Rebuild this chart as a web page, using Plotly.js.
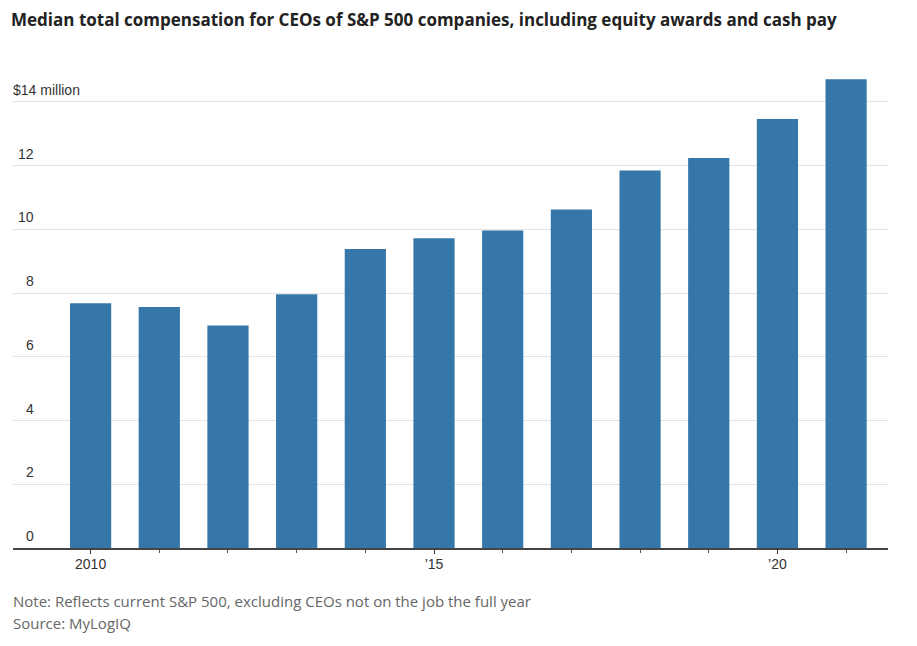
<!DOCTYPE html>
<html>
<head>
<meta charset="utf-8">
<script src="https://cdn.plot.ly/plotly-3.0.1.min.js"></script>
<style>
  html, body { margin: 0; padding: 0; background: #fff; }
  #chart { width: 917px; height: 646px; }
</style>
</head>
<body>
<div id="chart"></div>
<script>
/* data */
const years = [2010, 2011, 2012, 2013, 2014, 2015, 2016, 2017, 2018, 2019, 2020, 2021];
const medianPay = [7.68, 7.56, 6.98, 7.96, 9.38, 9.72, 9.96, 10.62, 11.85, 12.24, 13.46, 14.71];
const yTicks = [0, 2, 4, 6, 8, 10, 12];
const yTickText = ["0", "2", "4", "6", "8", "10", "12"];
const yTopTick = 14;
const yTopText = "$14 million";
const xTicks = [2010, 2015, 2020];
const xTickText = ["2010", "\u201915", "\u201920"];

const tickFace = "'Liberation Sans Narrow', 'Liberation Sans', Arial, sans-serif";
const body = "'Open Sans', 'Noto Sans', sans-serif";
const xRange = [2008.87, 2021.61];

// y labels sit above the gridlines, numbers right aligned
const yLabels = yTicks.map((v, i) => ({
  xref: "paper", yref: "y",
  x: 0.026, y: v,
  text: yTickText[i],
  showarrow: false,
  xanchor: "right", yanchor: "bottom",
  yshift: 2,
  font: { family: tickFace, size: 14, color: "#333" },
}));
yLabels.push({
  xref: "paper", yref: "y",
  x: 0, y: yTopTick,
  text: yTopText,
  showarrow: false,
  xanchor: "left", yanchor: "bottom",
  yshift: 2, xshift: -2,
  font: { family: tickFace, size: 14, color: "#333" },
});

const notes = [
  { text: "Note: Reflects current S&P 500, excluding CEOs not on the job the full year", y: 601 },
  { text: "Source: MyLogIQ", y: 623 },
].map((n) => ({
  xref: "paper", yref: "paper",
  x: 0, y: 1 - (n.y - 70) / 478,
  text: n.text,
  showarrow: false,
  xanchor: "left", yanchor: "middle",
  xshift: -2,
  font: { family: body, size: 15, color: "#666" },
}));

// label only every fifth year, small tick on each bar
const yearText = years.map((y) => {
  const k = xTicks.indexOf(y);
  return k >= 0 ? xTickText[k] : "";
});

Plotly.newPlot(
  "chart",
  [
    {
      type: "bar",
      x: years,
      y: medianPay,
      width: 0.6,
      marker: { color: "#3677a9" },
      hoverinfo: "x+y",
    },
    {
      // carrier for the longer ticks of the labelled years
      type: "scatter",
      mode: "none",
      x: years,
      y: medianPay,
      xaxis: "x2",
      hoverinfo: "skip",
    },
  ],
  {
    width: 917,
    height: 646,
    margin: { l: 13, r: 29, t: 70, b: 98 },
    paper_bgcolor: "#fff",
    plot_bgcolor: "#fff",
    showlegend: false,
    title: {
      text: "<b>Median total compensation for CEOs of S&P 500 companies, including equity awards and cash pay</b>",
      x: 11 / 917,
      xanchor: "left",
      y: 1 - 20 / 646,
      yanchor: "middle",
      font: { family: body, size: 17, color: "#222" },
    },
    xaxis: {
      range: xRange,
      tickmode: "array",
      tickvals: years,
      ticktext: yearText,
      ticks: "outside",
      ticklen: 3,
      tickcolor: "#555",
      tickfont: { family: tickFace, size: 14, color: "#333" },
      showline: true,
      linecolor: "#444",
      linewidth: 1.5,
      showgrid: false,
      zeroline: false,
      fixedrange: true,
    },
    xaxis2: {
      overlaying: "x",
      anchor: "y",
      side: "bottom",
      range: xRange,
      tickmode: "array",
      tickvals: xTicks,
      ticks: "outside",
      ticklen: 5,
      tickcolor: "#333",
      showticklabels: false,
      showline: false,
      showgrid: false,
      zeroline: false,
      fixedrange: true,
    },
    yaxis: {
      range: [0, 15],
      tickvals: yTicks.slice(1).concat([yTopTick]),
      showticklabels: false,
      showgrid: true,
      gridcolor: "#e3e3e3",
      gridwidth: 1,
      zeroline: false,
      fixedrange: true,
    },
    annotations: yLabels.concat(notes),
  },
  { displayModeBar: false, staticPlot: true }
);
</script>
</body>
</html>
